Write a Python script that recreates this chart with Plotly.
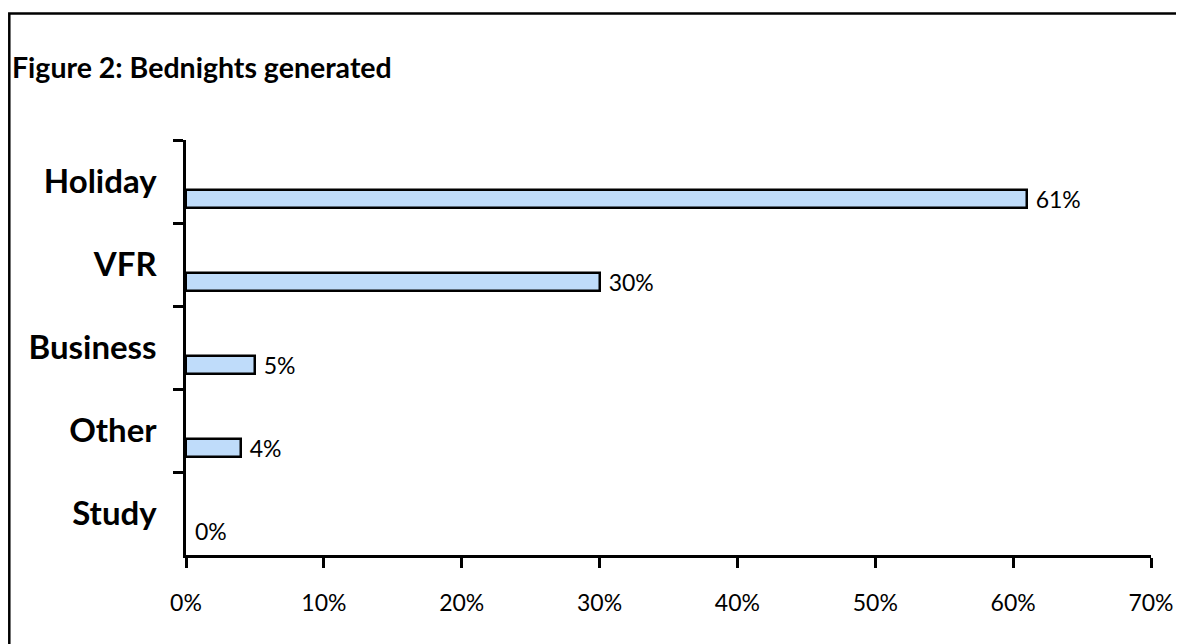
import plotly.graph_objects as go

categories = ["Holiday", "VFR", "Business", "Other", "Study"]
values = [61, 30, 5, 4, 0]
x_ticks = [0, 10, 20, 30, 40, 50, 60, 70]
x_tick_labels = ["0%", "10%", "20%", "30%", "40%", "50%", "60%", "70%"]
title_text = "Figure 2: Bednights generated"

OFF = 8  # page body margin
W, H = 1184 - OFF, 644 - OFF
# plot area in page pixels: x 186..1151, y 140..555
L, R, T, B = 186 - OFF, 1184 - 1151, 140 - OFF, 644 - 555
pw, ph = W - L - R, H - T - B

def px(x):
    return (x - OFF - L) / pw

def py(y):
    return 1 - (y - OFF - T) / ph

outline_widths = [2.5 if v > 0 else 0 for v in values]

fig = go.Figure()
fig.add_trace(go.Bar(
    y=categories,
    x=values,
    orientation="h",
    width=0.22,
    offset=0.10,
    marker=dict(color="#bfdcfa", line=dict(color="black", width=outline_widths)),
    text=["\u00a0" + f"{v}%" for v in values],
    textposition="outside",
    constraintext="none",
    cliponaxis=False,
    textfont=dict(family="Lato", size=23, color="black"),
    hoverinfo="skip",
))

fig.update_layout(
    width=W, height=H,
    margin=dict(l=L, r=R, t=T, b=B, autoexpand=False),
    paper_bgcolor="white",
    plot_bgcolor="white",
    showlegend=False,
    bargap=0,
    font=dict(family="Lato", color="black"),
    xaxis=dict(
        range=[0, 70],
        tickvals=x_ticks,
        ticktext=x_tick_labels,
        ticks="outside",
        ticklen=10,
        tickwidth=2.5,
        tickcolor="black",
        showline=True,
        linewidth=2.5,
        linecolor="black",
        showgrid=False,
        zeroline=False,
        tickfont=dict(family="Lato", size=23, color="black"),
        ticklabelstandoff=16,
    ),
    yaxis=dict(
        categoryorder="array",
        categoryarray=categories,
        range=[4.5, -0.5],
        tickson="boundaries",
        ticks="outside",
        ticklen=10,
        tickwidth=2.5,
        tickcolor="black",
        showline=True,
        linewidth=2.5,
        linecolor="black",
        showgrid=False,
        zeroline=False,
        tickfont=dict(family="Lato", size=33, color="black", weight="bold"),
        ticklabelstandoff=20,
    ),
    shapes=[dict(
        type="rect", xref="paper", yref="paper",
        x0=px(9.3), x1=px(1400), y0=py(900), y1=py(13.5),
        line=dict(color="black", width=2.5),
        fillcolor="rgba(0,0,0,0)",
        layer="above",
    )],
    annotations=[dict(
        text=title_text,
        xref="paper", yref="paper",
        x=px(10), y=py(67),
        xanchor="left", yanchor="middle",
        showarrow=False,
        font=dict(family="Lato", size=28.5, color="black", weight="bold"),
    )],
)

fig.write_html("out.html")
